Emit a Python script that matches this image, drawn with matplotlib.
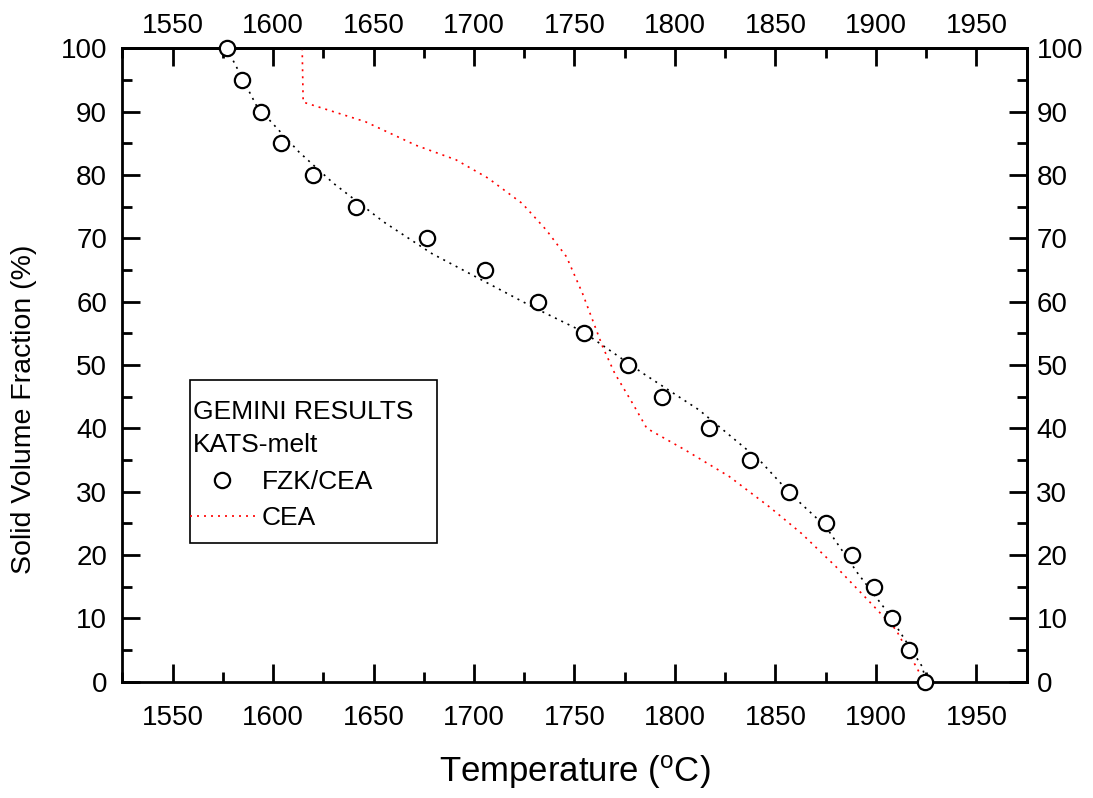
import matplotlib
matplotlib.use("Agg")
import matplotlib.pyplot as plt
import numpy as np
from matplotlib.ticker import FixedLocator
from matplotlib.lines import Line2D
from matplotlib.patches import Rectangle

plt.rcParams['font.family'] = ['Liberation Sans', 'DejaVu Sans']

# FZK/CEA data points
fzk_temp = [1577, 1584.6, 1594, 1603.8, 1619.8, 1641.5, 1676.8, 1705.6, 1731.9, 1754.6,
            1776.6, 1793.6, 1816.8, 1837.5, 1856.5, 1875.4, 1888.3, 1899.2, 1908, 1916.6, 1924.4]
fzk_frac = [100, 95, 90, 85, 80, 75, 70, 65, 60, 55, 50, 45, 40, 35, 30, 25, 20, 15, 10, 5, 0]

# Fitted curve through FZK/CEA points (black dotted)
fit_temp = [1577, 1592, 1613, 1630, 1655, 1679, 1704, 1729, 1754, 1784, 1812, 1820,
            1842, 1858, 1875, 1891, 1905, 1923, 1925]
fit_frac = [100, 90.8, 83.6, 78.7, 72.6, 67.6, 63.4, 59.2, 55.3, 48.7, 42.9, 40.8,
            35.0, 29.5, 24.5, 17.1, 11.3, 2.4, 0]

# CEA curve (red dotted)
cea_temp = [1614.5, 1615, 1630, 1646, 1671, 1691, 1707, 1724, 1736, 1746, 1754, 1759,
            1764, 1770, 1779, 1786, 1805, 1827, 1847, 1863, 1880, 1896, 1910, 1921, 1924]
cea_frac = [100, 91.5, 90, 88.4, 84.7, 82.4, 79.5, 75.5, 71.3, 67.1, 61.3, 57.1,
            52.9, 48.7, 43.9, 40, 36.6, 32.4, 27.6, 23.4, 18.2, 12.9, 8.2, 1.8, 0]

x_major = list(range(1550, 1951, 50))
x_minor = list(range(1525, 1976, 25))
y_major = list(range(0, 101, 10))
y_minor = list(range(0, 101, 5))

legend_title = ['GEMINI RESULTS', 'KATS-melt']
legend_labels = ['FZK/CEA', 'CEA']

fig = plt.figure(figsize=(10.93, 7.98), dpi=100)
ax = fig.add_axes([0.1119, 0.1457, 0.9393 - 0.1119, 0.9395 - 0.1457])

dot = (0, (1.2, 3))
ax.plot(fit_temp, fit_frac, color='black', lw=1.2, linestyle=dot, zorder=2)
ax.plot(cea_temp, cea_frac, color='red', lw=1.2, linestyle=dot, zorder=2)
ax.plot(fzk_temp, fzk_frac, linestyle='none', marker='o', ms=11, mfc='white',
        mec='black', mew=1.6, zorder=5, clip_on=False)

ax.set_xlim(1525, 1975)
ax.set_ylim(0, 100)


def style_axis(axis_obj, major, minor):
    axis_obj.set_major_locator(FixedLocator(major))
    axis_obj.set_minor_locator(FixedLocator(minor))


style_axis(ax.xaxis, x_major, x_minor)
style_axis(ax.yaxis, y_major, y_minor)
ax.tick_params(which='both', direction='in', top=False, right=False, width=2, labelsize=20)
ax.tick_params(axis='x', pad=17)
ax.tick_params(axis='y', pad=11)
ax.tick_params(which='major', length=13)
ax.tick_params(which='minor', length=7)
for s in ax.spines.values():
    s.set_linewidth(2)

secx = ax.secondary_xaxis('top')
style_axis(secx.xaxis, x_major, x_minor)
secx.tick_params(which='both', direction='in', width=2, labelsize=20, pad=7)
secx.tick_params(which='major', length=13)
secx.tick_params(which='minor', length=7)
secx.spines['top'].set_linewidth(2)
secx.xaxis.get_offset_text().set_visible(False)

secy = ax.secondary_yaxis('right')
style_axis(secy.yaxis, y_major, y_minor)
secy.tick_params(which='both', direction='in', width=2, labelsize=20, pad=7)
secy.tick_params(which='major', length=13)
secy.tick_params(which='minor', length=7)
secy.spines['right'].set_linewidth(2)
secy.yaxis.get_offset_text().set_visible(False)

ax.set_xlabel('Temperature ($\\mathregular{^oC}$)', fontsize=25)
ax.xaxis.set_label_coords(0.5, -0.113)
ax.set_ylabel('Solid Volume Fraction (%)', fontsize=20.5)
ax.yaxis.set_label_coords(-0.094, 0.43)


def ax_frac(px, py):
    return ((px - 122.3) / 904.4, (681.7 - py) / 633.4)


# legend frame
x0, y0 = ax_frac(190, 543)
x1, y1 = ax_frac(437, 380)
ax.add_patch(Rectangle((x0, y0), x1 - x0, y1 - y0, transform=ax.transAxes,
                       facecolor='white', edgecolor='black', lw=1.2, zorder=6))
for i, t in enumerate(legend_title):
    tx, ty = ax_frac(193, 412 + 33 * i)
    ax.text(tx, ty, t, transform=ax.transAxes, fontsize=19, ha='left', va='center', zorder=7)

handles = [
    Line2D([], [], linestyle='none', marker='o', ms=11, mfc='white', mec='black', mew=1.6),
    Line2D([], [], color='red', lw=1.2, linestyle=dot),
]
lx, ly = ax_frac(190, 500)
leg = ax.legend(handles, legend_labels, loc='center left', bbox_to_anchor=(lx, ly),
                borderaxespad=0, borderpad=0, fontsize=19, frameon=False,
                handlelength=2.46, handletextpad=0.27, labelspacing=0.45)
leg.set_zorder(8)

fig.savefig('out.png', dpi=100)
